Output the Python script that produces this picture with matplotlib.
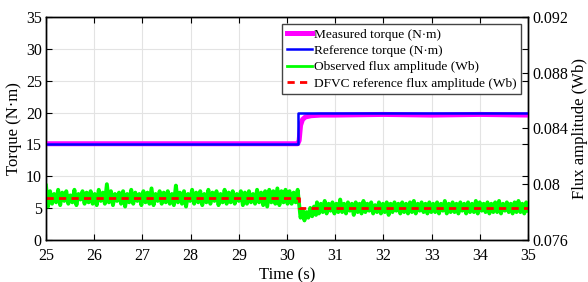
import numpy as np
import matplotlib
matplotlib.use("Agg")
import matplotlib.pyplot as plt

plt.rcParams['font.family'] = ['Liberation Serif', 'DejaVu Serif']

# torque data (N·m)
t_meas = [25, 30.22, 30.25, 30.28, 30.32, 30.38, 30.5, 30.7, 31, 32, 33, 34, 35]
torque_meas = [15.1, 15.1, 15.6, 18.0, 18.9, 19.3, 19.5, 19.6, 19.6, 19.7, 19.6, 19.7, 19.6]
t_ref = [25, 30.22, 35]
torque_ref = [15.0, 20.0, 20.0]

# observed flux (mWb) in three stretches
flux_before = [79.9, 78.4, 79.5, 78.6, 79.3, 78.7, 79.6, 78.5, 79.4, 78.8, 79.5, 78.6, 79.2, 78.7, 79.6, 78.5, 79.3, 78.9, 79.5, 78.6,
               79.4, 78.7, 79.5, 78.6, 79.3, 78.5, 79.6, 78.8, 79.4, 78.6, 80.0, 78.7, 79.5, 78.5, 79.3, 78.8, 79.4, 78.6, 79.5, 78.4,
               79.3, 78.7, 79.6, 78.6, 79.4, 78.8, 79.3, 78.5, 79.5, 78.7, 79.4, 78.6, 79.7, 78.5, 79.3, 78.8, 79.5, 78.6, 79.4, 78.7,
               79.5, 78.6, 79.3, 78.5, 79.9, 78.7, 79.4, 78.6, 79.5, 78.4, 79.3, 78.8, 79.6, 78.6, 79.4, 78.7, 79.5, 78.5, 79.3, 78.7,
               79.6, 78.6, 79.4, 78.8, 79.5, 78.5, 79.3, 78.7, 79.6, 78.6, 79.4, 78.7, 79.5, 78.6, 79.3, 78.8, 79.5, 78.5, 79.4, 78.6,
               79.5, 78.7, 79.3, 78.6, 79.6, 78.7, 79.4, 78.5, 79.5, 78.4, 79.6, 78.7, 79.5, 78.6, 79.7, 78.5, 79.5, 78.7, 79.6, 78.6,
               79.5, 78.6, 79.4, 78.7, 79.6]
flux_step = [78.9, 77.6, 78.2, 77.4, 78.0, 77.6, 78.3, 77.7, 78.4, 77.8]
flux_after = [78.7, 77.9, 78.6, 78.0, 78.8, 77.9, 78.6, 78.1, 78.7, 77.9, 78.6, 78.0, 78.9, 78.0, 78.6, 77.9, 78.7, 78.1, 78.6, 77.8,
              78.7, 78.0, 78.6, 77.9, 78.8, 78.0, 78.6, 78.1, 78.7, 77.9, 78.5, 78.0, 78.7, 77.9, 78.6, 78.0, 78.7, 77.8, 78.6, 78.0,
              78.7, 78.1, 78.6, 77.9, 78.7, 78.0, 78.6, 77.9, 78.7, 78.0, 78.8, 77.9, 78.6, 78.1, 78.7, 78.0, 78.6, 77.9, 78.7, 78.0,
              78.6, 78.0, 78.7, 77.9, 78.6, 78.1, 78.8, 77.9, 78.6, 78.0, 78.7, 78.0, 78.6, 77.9, 78.7, 78.1, 78.6, 77.9, 78.7, 78.0,
              78.6, 78.0, 78.8, 77.9, 78.7, 78.1, 78.6, 78.0, 78.7, 77.9, 78.6, 78.0, 78.7, 78.0, 78.8, 77.9, 78.6, 78.1, 78.7, 78.0,
              78.6, 77.9, 78.7, 78.0, 78.8, 78.0, 78.6, 77.9, 78.7, 78.1]
t_flux_ref = [25, 30.25, 35]
flux_ref = [79.04, 78.32, 78.32]

x_ticks = [25, 26, 27, 28, 29, 30, 31, 32, 33, 34, 35]
torque_ticks = [0, 5, 10, 15, 20, 25, 30, 35]
flux_ticks = [0.076, 0.080, 0.084, 0.088, 0.092]
flux_tick_labels = ['0.076', '0.08', '0.084', '0.088', '0.092']

# sample times of the observed flux
t_obs = np.concatenate([np.linspace(25, 30.22, len(flux_before)),
                        np.linspace(30.24, 30.6, len(flux_step)),
                        np.linspace(30.62, 35, len(flux_after))])
flux_obs = np.array(flux_before + flux_step + flux_after) / 1000.0

fig = plt.figure(figsize=(5.88, 2.82), dpi=100)
ax = fig.add_axes([0.0782, 0.149, 0.82, 0.791])
ax2 = ax.twinx()

l1, = ax.plot(t_meas, torque_meas, color='#ff00ff', lw=3.6, label='Measured torque (N·m)', zorder=3)
l2, = ax.plot(t_ref, torque_ref, color='#0000ff', lw=1.8, drawstyle='steps-post',
              label='Reference torque (N·m)', zorder=4)
l3, = ax2.plot(t_obs, flux_obs, color='#00ff00', lw=2.8, label='Observed flux amplitude (Wb)')
l4, = ax2.plot(t_flux_ref, np.array(flux_ref) / 1000.0, color='#ff0000', lw=2, dashes=(2.6, 1.9),
               drawstyle='steps-post', label='DFVC reference flux amplitude (Wb)')

ax.set_xlim(25, 35)
ax.set_ylim(0, 35)
ax.set_xticks(x_ticks)
ax.set_yticks(torque_ticks)
ax2.set_ylim(0.076, 0.092)
ax2.set_yticks(flux_ticks)
ax2.set_yticklabels(flux_tick_labels)

ax.grid(True, color='#e3e3e3', lw=0.8)
ax.set_axisbelow(True)
ax.tick_params(direction='in', top=True, right=True, labelsize=11.5, length=4, pad=3)
ax.tick_params(axis='x', pad=6)
ax2.tick_params(direction='in', labelsize=11.5, length=4, pad=3)
for a in (ax, ax2):
    for s in a.spines.values():
        s.set_linewidth(1.0)

ax.set_xlabel('Time (s)', fontsize=12, labelpad=2)
ax.set_ylabel('Torque (N·m)', fontsize=12, labelpad=3)
ax2.set_ylabel('Flux amplitude (Wb)', fontsize=12, labelpad=3)

leg = ax2.legend(handles=[l1, l2, l3, l4], loc='upper right', fontsize=9.6, fancybox=False,
                 edgecolor='#444444', framealpha=1, handlelength=1.9, handletextpad=0.15,
                 labelspacing=0.3, borderpad=0.35, borderaxespad=0.5)
leg.get_frame().set_linewidth(1.0)
for h in leg.get_lines()[2:]:
    h.set_linewidth(2.0)

fig.savefig('out.png', dpi=100)
